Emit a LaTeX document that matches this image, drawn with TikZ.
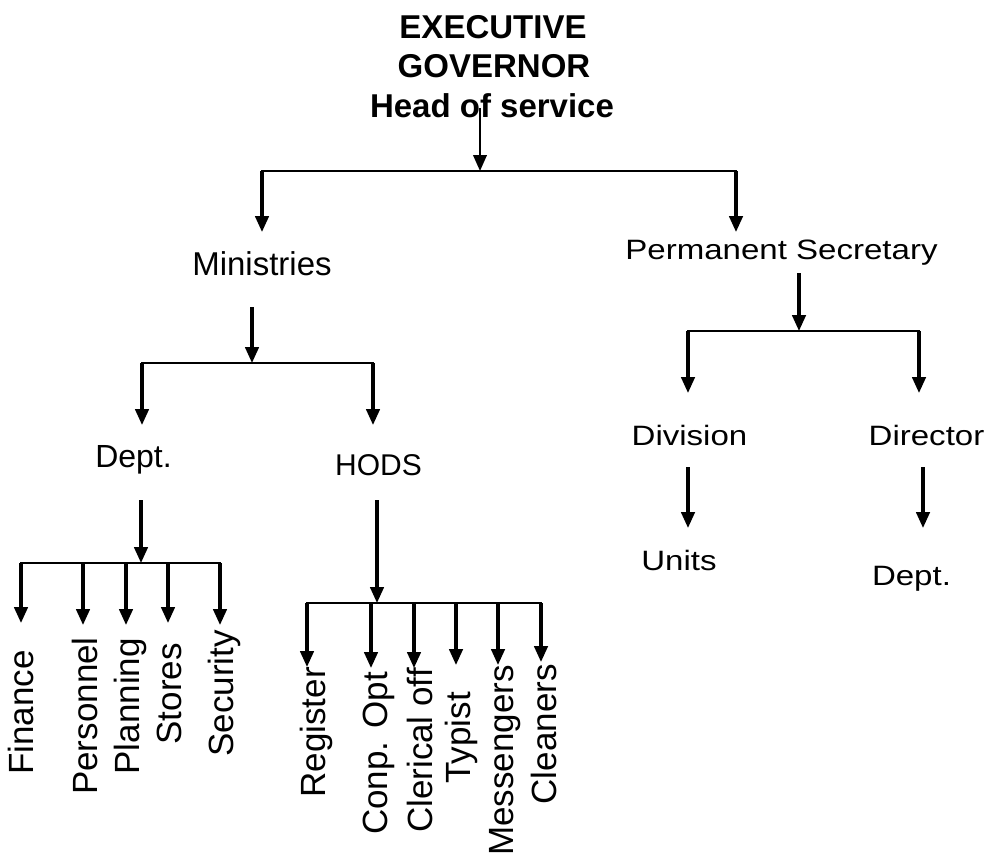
\documentclass[tikz,border=0pt]{standalone}
\usepackage{fontspec}
\setmainfont{Liberation Sans}
\newfontfamily\widef{Liberation Sans}[FakeStretch=1.18]
\usetikzlibrary{arrows.meta}
\newcommand\fsz[1]{\fontsize{#1}{#1}\selectfont}
\begin{document}
\begin{tikzpicture}[x=1pt,y=-1pt,
  arr/.style={line width=3.1pt,-{Triangle[width=13.5pt,length=16pt]}},
  bar/.style={line width=1.6pt, line cap=rect},
  txt/.style={inner sep=0pt, anchor=base},
  wtxt/.style={txt, font=\widef\fsz{28}},
  rtxt/.style={inner sep=0pt, anchor=base east, rotate=90, font=\fsz{35}},
  ttl/.style={txt, font=\bfseries\fsz{33}}]
\fill[white] (0,0) rectangle (991,860);
\useasboundingbox (0,0) rectangle (991,860);

% title
\node[ttl] (exec) at (493,38) {EXECUTIVE};
\node[ttl] (gov) at (494,77) {GOVERNOR};
\node[ttl] (head) at (492,117) {Head of service};
\coordinate (t0) at (480,108);
\coordinate (t1) at (480,171);
\coordinate (b1l) at (262,171);
\coordinate (b1r) at (736,171);
\coordinate (minin) at (262,232);
\coordinate (psin) at (736,232);
\draw[bar] (b1l) -- (b1r);
\draw[arr, line width=2.3pt] (t0) -- (t1);
\draw[arr] (b1l) -- (minin);
\draw[arr] (b1r) -- (psin);

% Ministries branch
\node[txt,font=\fsz{33}] (min) at (262,275) {Ministries};
\coordinate (m0) at (252,307);
\coordinate (m1) at (252,363);
\coordinate (b2l) at (142,363);
\coordinate (b2r) at (373,363);
\coordinate (deptin) at (142,425);
\coordinate (hodsin) at (373,425);
\draw[bar] (b2l) -- (b2r);
\draw[arr] (m0) -- (m1);
\draw[arr] (b2l) -- (deptin);
\draw[arr] (b2r) -- (hodsin);

\node[txt,font=\fsz{32}] (dept) at (133.5,467) {Dept.};
\node[txt,font=\fsz{30}] (hods) at (378.5,475) {HODS};

% Dept children
\coordinate (d0) at (141,500);
\coordinate (d1) at (141,563);
\coordinate (b3a) at (21,563);
\coordinate (b3b) at (83,563);
\coordinate (b3c) at (126,563);
\coordinate (b3d) at (168,563);
\coordinate (b3e) at (220,563);
\coordinate (fin) at (21,623);
\coordinate (per) at (83,625);
\coordinate (pla) at (126,625);
\coordinate (sto) at (168,623);
\coordinate (sec) at (220,625);
\draw[bar] (b3a) -- (b3e);
\draw[arr] (d0) -- (d1);
\draw[arr] (b3a) -- (fin);
\draw[arr] (b3b) -- (per);
\draw[arr] (b3c) -- (pla);
\draw[arr] (b3d) -- (sto);
\draw[arr] (b3e) -- (sec);
\node[rtxt] (lfin) at (33,650) {Finance};
\node[rtxt] (lper) at (97,637) {Personnel};
\node[rtxt] (lpla) at (139,638) {Planning};
\node[rtxt] (lsto) at (181,643) {Stores};
\node[rtxt] (lsec) at (233,630) {Security};

% HODS children
\coordinate (h0) at (377,500);
\coordinate (h1) at (377,603);
\coordinate (b4a) at (307,603);
\coordinate (b4b) at (371,603);
\coordinate (b4c) at (414,603);
\coordinate (b4d) at (456,603);
\coordinate (b4e) at (498,603);
\coordinate (b4f) at (541,603);
\coordinate (reg) at (307,667);
\coordinate (con) at (371,668);
\coordinate (cle) at (414,668);
\coordinate (typ) at (456,665);
\coordinate (mes) at (498,665);
\coordinate (cln) at (541,662);
\draw[bar] (b4a) -- (b4f);
\draw[arr] (h0) -- (h1);
\draw[arr] (b4a) -- (reg);
\draw[arr] (b4b) -- (con);
\draw[arr] (b4c) -- (cle);
\draw[arr] (b4d) -- (typ);
\draw[arr] (b4e) -- (mes);
\draw[arr] (b4f) -- (cln);
\node[rtxt] (lreg) at (325,667) {Register};
\node[rtxt] (lcon) at (387,672) {Conp. Opt};
\node[rtxt] (lcle) at (432,668) {Clerical off};
\node[rtxt] (ltyp) at (470,692) {Typist};
\node[rtxt] (lmes) at (513,665) {Messengers};
\node[rtxt] (lcln) at (556,664) {Cleaners};

% Permanent Secretary branch
\node[wtxt] (ps) at (781.5,259) {Permanent Secretary};
\coordinate (p0) at (799,273);
\coordinate (p1) at (799,331);
\coordinate (b5l) at (688,331);
\coordinate (b5r) at (919,331);
\coordinate (divin) at (688,393);
\coordinate (dirin) at (919,393);
\draw[bar] (b5l) -- (b5r);
\draw[arr] (p0) -- (p1);
\draw[arr] (b5l) -- (divin);
\draw[arr] (b5r) -- (dirin);
\node[wtxt] (div) at (689.5,445) {Division};
\node[wtxt] (dir) at (926.5,445) {Director};
\coordinate (v0) at (688,467);
\coordinate (v1) at (688,528);
\coordinate (r0) at (923,467);
\coordinate (r1) at (923,528);
\draw[arr] (v0) -- (v1);
\draw[arr] (r0) -- (r1);
\node[wtxt] (units) at (679,570) {Units};
\node[wtxt] (dept2) at (911.5,585) {Dept.};
\end{tikzpicture}
\end{document}
